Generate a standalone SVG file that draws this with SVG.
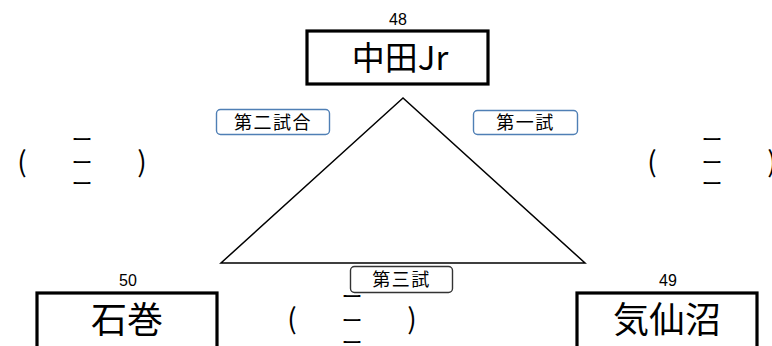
<svg xmlns="http://www.w3.org/2000/svg" width="772" height="346" viewBox="0 0 772 346">
<style>
.team{fill:#fff;stroke:#000;stroke-width:3.2}
.tname{font-family:"Noto Sans CJK JP","Noto Sans",sans-serif;fill:#000;text-anchor:middle}
.num{font-family:"Liberation Sans",Arial,sans-serif;font-size:16px;fill:#000;text-anchor:middle}
.lbl{fill:#fff;stroke-width:1.4}
.lbltxt{font-family:"Noto Sans CJK JP",sans-serif;font-size:18px;letter-spacing:1.5px;fill:#000;text-anchor:middle}
.par{font-family:"Noto Sans CJK JP",sans-serif;font-size:28px;fill:#000;text-anchor:middle}
.dash{font-family:"Noto Sans CJK JP",sans-serif;font-size:21px;fill:#000;text-anchor:middle}
</style>
<rect width="772" height="346" fill="#fff"/>
<g id="connectors">
<polygon points="403,98 221,263 585,263" fill="none" stroke="#000" stroke-width="1.5"/>
</g>
<g id="node-nakata">
<text class="num" x="398" y="25">48</text>
<rect class="team" x="307" y="31" width="181" height="53"/>
<text class="tname" x="400" y="70" font-size="33">中田Jr</text>
</g>
<g id="node-ishinomaki">
<text class="num" x="128" y="286">50</text>
<rect class="team" x="37" y="293" width="180" height="60"/>
<text class="tname" x="127" y="333" font-size="36">石巻</text>
</g>
<g id="node-kesennuma">
<text class="num" x="668" y="286">49</text>
<rect class="team" x="577" y="293" width="180" height="60"/>
<text class="tname" x="667" y="333" font-size="36">気仙沼</text>
</g>
<g id="label-2">
<rect class="lbl" x="216.5" y="109.5" width="113" height="25" rx="4" stroke="#4f7fb5"/>
<text class="lbltxt" x="273" y="129">第二試合</text>
</g>
<g id="label-1">
<rect class="lbl" x="473.5" y="110.5" width="104" height="24" rx="4" stroke="#4f7fb5"/>
<text class="lbltxt" x="525.5" y="129">第一試</text>
</g>
<g id="label-3">
<rect class="lbl" x="350.5" y="266.5" width="102" height="26" rx="4" stroke="#333"/>
<text class="lbltxt" x="401.5" y="286">第三試</text>
</g>
<g id="score-left">
<text class="par" x="22" y="172">(</text>
<text class="dash" x="82" y="147">ー</text>
<text class="dash" x="82" y="170">ー</text>
<text class="dash" x="82" y="191">ー</text>
<text class="par" x="142" y="172">)</text>
</g>
<g id="score-right">
<text class="par" x="652" y="172">(</text>
<text class="dash" x="712" y="147">ー</text>
<text class="dash" x="712" y="170">ー</text>
<text class="dash" x="712" y="191">ー</text>
<text class="par" x="772" y="172">)</text>
</g>
<g id="score-bottom">
<text class="par" x="292" y="329">(</text>
<text class="dash" x="352" y="304">ー</text>
<text class="dash" x="352" y="328">ー</text>
<text class="dash" x="352" y="350">ー</text>
<text class="par" x="412" y="329">)</text>
</g>
</svg>
